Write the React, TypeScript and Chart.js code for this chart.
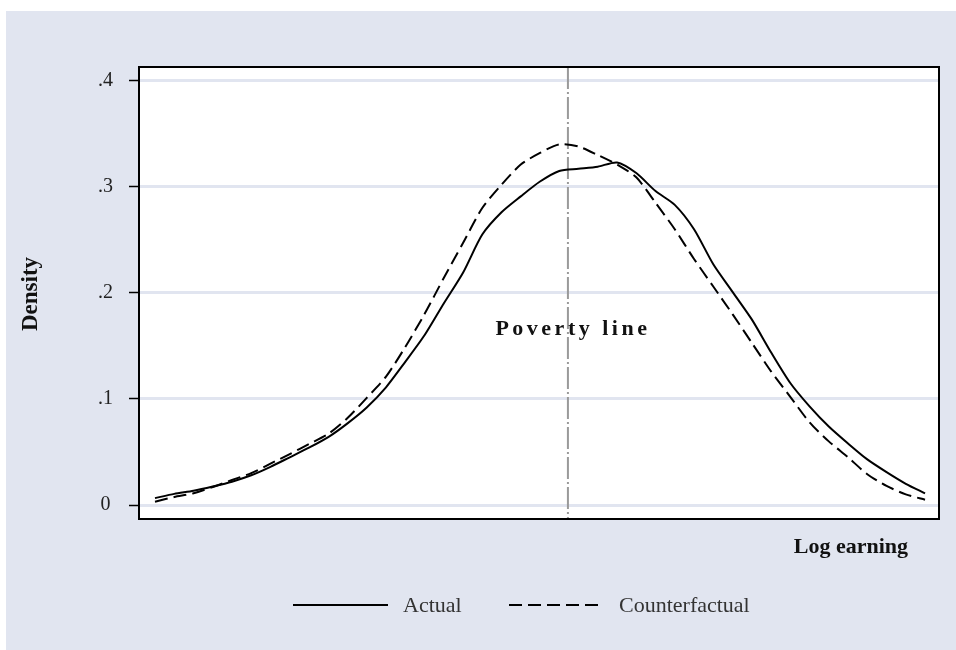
import React, { useEffect, useRef } from "react";
import { Chart, registerables } from "chart.js";

Chart.register(...registerables);

// Log earning grid (x values)
const logEarning = [
  3.0, 3.2, 3.4, 3.6, 3.8, 4.0, 4.2, 4.4, 4.6, 4.8, 5.0, 5.2, 5.4, 5.6, 5.8, 6.0, 6.2, 6.4, 6.6, 6.8, 7.0,
  7.2, 7.4, 7.6, 7.8, 8.0, 8.2, 8.4, 8.6, 8.8, 9.0, 9.2, 9.4, 9.6, 9.8, 10.0, 10.2, 10.4, 10.6, 10.8, 11.0,
];
const actualDensity = [
  0.0065, 0.0105, 0.0135, 0.0175, 0.022, 0.028, 0.036, 0.045, 0.054, 0.064, 0.077, 0.092, 0.111, 0.135, 0.16,
  0.19, 0.219, 0.255, 0.276, 0.291, 0.305, 0.315, 0.317, 0.319, 0.323, 0.313, 0.296, 0.283, 0.26, 0.227,
  0.201, 0.175, 0.144, 0.115, 0.093, 0.074, 0.058, 0.043, 0.031, 0.02, 0.011,
];
const counterfactualDensity = [
  0.0031, 0.0075, 0.011, 0.017, 0.0236, 0.03, 0.039, 0.048, 0.0575, 0.067, 0.082, 0.101, 0.121, 0.149, 0.18,
  0.214, 0.247, 0.28, 0.302, 0.321, 0.332, 0.34, 0.338, 0.33, 0.321, 0.309, 0.285, 0.26, 0.232, 0.206,
  0.18, 0.153, 0.126, 0.102, 0.078, 0.06, 0.045, 0.029, 0.018, 0.01, 0.005,
];
const povertyLine = 7.29;
const yTicks = [0, 0.1, 0.2, 0.3, 0.4];
const seriesLabels = ["Actual", "Counterfactual"];
const xTitle = "Log earning";
const yTitle = "Density";
const povertyLabel = "Poverty line";

const BG = "#e1e5f0";
const SERIF = "'Liberation Serif', 'Times New Roman', serif";

export default function App() {
  const ref = useRef<HTMLCanvasElement | null>(null);

  useEffect(() => {
    const canvas = ref.current;
    if (!canvas) return;

    const decor = {
      id: "decor",
      beforeDraw(chart: any) {
        const { ctx, chartArea: a, width, height } = chart;
        ctx.save();
        ctx.fillStyle = "#ffffff";
        ctx.fillRect(0, 0, width, height);
        ctx.fillStyle = BG;
        ctx.fillRect(6, 11, width - 6, height - 11);
        ctx.fillStyle = "#ffffff";
        ctx.fillRect(a.left, a.top, a.right - a.left, a.bottom - a.top);
        ctx.restore();
      },
      beforeDatasetsDraw(chart: any) {
        const { ctx, chartArea: a } = chart;
        const px = chart.scales.x.getPixelForValue(povertyLine);
        ctx.save();
        ctx.strokeStyle = "#9a9a9a";
        ctx.lineWidth = 2;
        ctx.setLineDash([22, 3, 2, 3]);
        ctx.beginPath();
        ctx.moveTo(px, a.top);
        ctx.lineTo(px, a.bottom);
        ctx.stroke();
        ctx.restore();
      },
      afterDraw(chart: any) {
        const { ctx, chartArea: a } = chart;
        ctx.save();
        // plot border
        ctx.strokeStyle = "#000";
        ctx.lineWidth = 2;
        ctx.setLineDash([]);
        ctx.strokeRect(a.left, a.top, a.right - a.left, a.bottom - a.top);

        // poverty line label
        const px = chart.scales.x.getPixelForValue(povertyLine);
        ctx.fillStyle = "#111";
        ctx.font = `bold 22px ${SERIF}`;
        (ctx as any).letterSpacing = "3.5px";
        ctx.textAlign = "center";
        ctx.textBaseline = "middle";
        ctx.fillText(povertyLabel, px + 5, 329);
        (ctx as any).letterSpacing = "0px";

        // x title
        ctx.font = `bold 22px ${SERIF}`;
        ctx.textAlign = "right";
        ctx.fillText(xTitle, 908, 547);

        // y title
        ctx.save();
        ctx.translate(31, 294);
        ctx.rotate(-Math.PI / 2);
        ctx.textAlign = "center";
        ctx.font = `bold 23px ${SERIF}`;
        ctx.fillText(yTitle, 0, 0);
        ctx.restore();

        // legend
        const ds = chart.data.datasets;
        const items = [
          { x0: 293, x1: 388, tx: 403 },
          { x0: 509, x1: 604, tx: 619 },
        ];
        const ly = 605;
        items.forEach((it, i) => {
          ctx.strokeStyle = "#000";
          ctx.lineWidth = 2;
          ctx.setLineDash(ds[i].borderDash || []);
          ctx.beginPath();
          ctx.moveTo(it.x0, ly);
          ctx.lineTo(it.x1, ly);
          ctx.stroke();
          ctx.setLineDash([]);
          ctx.fillStyle = "#333";
          ctx.font = `22px ${SERIF}`;
          ctx.textAlign = "left";
          ctx.textBaseline = "middle";
          ctx.fillText(ds[i].label, it.tx, ly + 1);
        });
        ctx.restore();
      },
    };

    const chart = new Chart(canvas, {
      type: "line",
      data: {
        datasets: [
          {
            label: seriesLabels[0],
            data: logEarning.map((x, i) => ({ x, y: actualDensity[i] })),
            borderColor: "#000",
            borderWidth: 2,
            pointRadius: 0,
            tension: 0.25,
            fill: false,
          },
          {
            label: seriesLabels[1],
            data: logEarning.map((x, i) => ({ x, y: counterfactualDensity[i] })),
            borderColor: "#000",
            borderWidth: 2,
            borderDash: [13, 6],
            pointRadius: 0,
            tension: 0.25,
            fill: false,
          },
        ],
      },
      options: {
        responsive: false,
        animation: false,
        layout: { padding: { left: 0, right: 17, top: 67, bottom: 131 } },
        plugins: { legend: { display: false }, tooltip: { enabled: false } },
        scales: {
          x: { type: "linear", display: false, min: 2.834, max: 11.145 },
          y: {
            type: "linear",
            min: -0.0132,
            max: 0.413,
            afterFit: (s: any) => {
              s.width = 139;
            },
            afterBuildTicks: (s: any) => {
              s.ticks = yTicks.map((v) => ({ value: v }));
            },
            ticks: {
              color: "#222",
              font: { family: SERIF, size: 20 },
              padding: 16,
              crossAlign: "center",
              callback: (v: any) => {
                const n = Math.round(Number(v) * 10);
                return n === 0 ? "0" : "." + n;
              },
            },
            grid: {
              color: BG,
              lineWidth: 3,
              drawTicks: true,
              tickLength: 10,
              tickColor: "#000",
              tickWidth: 1.5,
            },
            border: { display: false },
          },
        },
      },
      plugins: [decor],
    } as any);

    return () => chart.destroy();
  }, []);

  return (
    <div style={{ position: "fixed", left: 0, top: 0, width: 956, height: 650, background: "#fff" }}>
      <canvas ref={ref} width={956} height={650} style={{ width: 956, height: 650, display: "block" }} />
    </div>
  );
}
